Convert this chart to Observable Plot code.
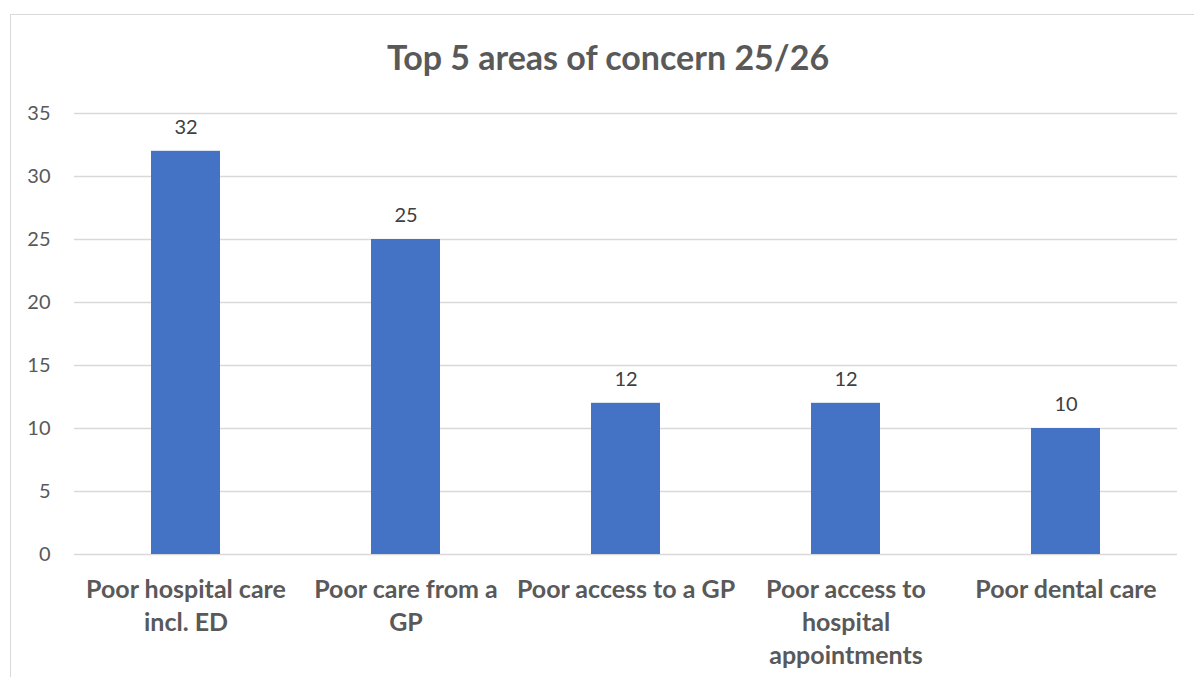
<!DOCTYPE html>
<html>
<head>
<meta charset="utf-8">
<script src="https://cdn.jsdelivr.net/npm/d3@7"></script>
<script src="https://cdn.jsdelivr.net/npm/@observablehq/plot@0.6"></script>
<style>
  html, body { margin: 0; padding: 0; background: #fff; width: 1194px; height: 677px; overflow: hidden; }
  #frame { position: absolute; left: 10px; top: 14px; width: 1200px; height: 700px; border: 1.5px solid #d9d9d9; box-sizing: border-box; }
  #title { position: absolute; left: 10px; width: 1196px; top: 36px; text-align: center; font-family: Lato, sans-serif; font-weight: bold; font-size: 34px; color: #595959; line-height: 42px; }
  #chart { position: absolute; left: 0; top: 0; }
</style>
</head>
<body>
<div id="frame"></div>
<div id="title">Top 5 areas of concern 25/26</div>
<div id="chart"></div>
<script>
const categories = [
  "Poor hospital care incl. ED",
  "Poor care from a GP",
  "Poor access to a GP",
  "Poor access to hospital appointments",
  "Poor dental care"
];
const tickLabels = [
  "Poor hospital care\nincl. ED",
  "Poor care from a\nGP",
  "Poor access to a GP",
  "Poor access to\nhospital\nappointments",
  "Poor dental care"
];
const values = [32, 25, 12, 12, 10];
const yTicks = [0, 5, 10, 15, 20, 25, 30, 35];

const data = categories.map((c, i) => ({category: c, value: values[i]}));
const labelOf = new Map(categories.map((c, i) => [c, tickLabels[i]]));

const chart = Plot.plot({
  width: 1194,
  height: 677,
  marginLeft: 74,
  marginRight: 17,
  marginTop: 113,
  marginBottom: 123,
  style: {fontFamily: "Lato, sans-serif", background: "transparent"},
  x: {domain: categories, paddingInner: 0.687, paddingOuter: 0.3435, align: 0.5},
  y: {domain: [0, 35]},
  marks: [
    Plot.gridY(yTicks, {stroke: "#d9d9d9", strokeOpacity: 1, strokeWidth: 1.5}),
    Plot.barY(data, {x: "category", y: "value", fill: "#4472C4"}),
    Plot.text(data, {x: "category", y: "value", text: d => String(d.value), dy: -24, fontSize: 20, fill: "#404040"}),
    Plot.axisY(yTicks, {tickSize: 0, tickPadding: 24, fontSize: 20, fill: "#595959", label: null}),
    Plot.axisX({tickSize: 0, tickPadding: 20, fontSize: 25, fontWeight: "bold", fill: "#595959", lineHeight: 1.32, tickFormat: d => labelOf.get(d), label: null})
  ]
});
document.getElementById("chart").appendChild(chart);
</script>
</body>
</html>
